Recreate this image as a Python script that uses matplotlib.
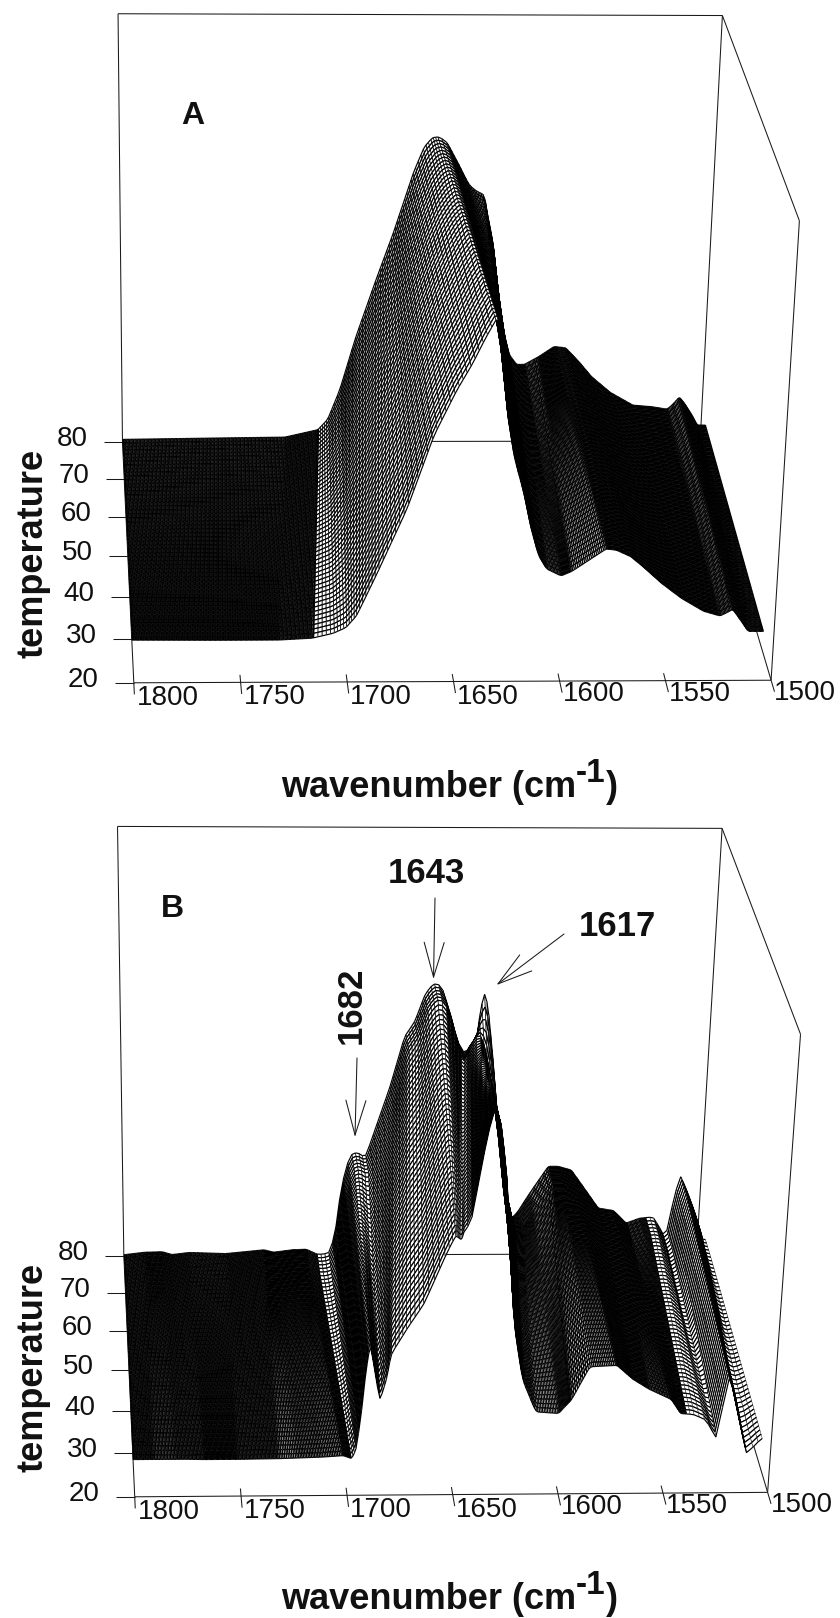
import numpy as np
import matplotlib
matplotlib.use('Agg')
import matplotlib.pyplot as plt
from matplotlib.collections import PathCollection
from matplotlib.path import Path

plt.rcParams['font.family'] = ['Liberation Sans', 'DejaVu Sans']

# axis ticks
WN_TICKS = [1800, 1750, 1700, 1650, 1600, 1550, 1500]
TEMP_TICKS = [20, 30, 40, 50, 60, 70, 80]

# panel A, spectra read off the front (30) and back (80) edge of the surface
# same number of points per edge, point n on one edge belongs to point n on the other
A_WN_80 = [1800, 1752, 1716, 1699, 1694, 1688, 1680, 1670, 1662, 1657, 1652, 1647, 1643, 1640, 1636, 1630, 1624, 1620, 1616, 1615, 1611, 1608, 1604, 1601, 1597, 1593, 1586, 1578, 1572, 1565, 1558, 1548, 1536, 1526, 1518, 1515, 1512, 1509, 1505, 1502, 1497]
A_ABS_80 = [6, 9, 11, 29, 54, 125, 254, 392, 497, 570, 643, 700, 721, 723, 713, 664, 612, 597, 589, 560, 477, 371, 264, 211, 187, 187, 205, 230, 227, 194, 157, 119, 88, 84, 78, 91, 108, 91, 64, 39, 39]
A_WN_30 = [1800, 1760, 1730, 1714, 1704, 1698, 1693, 1684, 1670, 1658, 1648, 1641, 1635, 1630, 1629, 1628, 1627, 1626, 1625, 1624, 1620, 1615, 1611, 1607, 1603, 1596, 1591, 1575, 1570, 1563, 1557, 1548, 1538, 1527, 1519, 1516, 1513, 1509, 1505, 1502, 1497]
A_ABS_30 = [-2, -3, -3, 1, 12, 25, 52, 144, 294, 458, 556, 614, 672, 715, 700, 670, 643, 600, 560, 507, 408, 329, 249, 188, 158, 142, 152, 203, 200, 185, 162, 125, 90, 60, 49, 56, 64, 39, 13, 13, 13]

# panel B, the 75 edge is the shoulder that stands in front of the 1617 band
B_WN_80 = [1800, 1789, 1780, 1775, 1766, 1747, 1727, 1722, 1712, 1705, 1699, 1693, 1690, 1688, 1685, 1682, 1679, 1675, 1669, 1663, 1656, 1651, 1646, 1642, 1638, 1633, 1629, 1625, 1623, 1619, 1618, 1616, 1614, 1611, 1607, 1602, 1598, 1595, 1589, 1580, 1575, 1568, 1561, 1553, 1545, 1538, 1531, 1524, 1520, 1517, 1514, 1511, 1506, 1501, 1499, 1495]
B_ABS_80 = [2, 8, 9, 2, 7, 4, 13, 7, 13, 14, 1, 4, 53, 139, 213, 247, 249, 237, 321, 405, 524, 559, 623, 647, 643, 577, 512, 482, 500, 524, 577, 629, 594, 488, 321, 163, 89, 105, 151, 215, 215, 206, 163, 113, 107, 76, 88, 91, 63, 38, 125, 195, 144, 88, 38, 34]
B_WN_75 = [1800, 1789, 1780, 1775, 1766, 1747, 1727, 1722, 1712, 1705, 1699, 1693, 1690, 1688, 1685, 1682, 1679, 1675, 1669, 1663, 1656, 1651, 1646, 1642, 1638, 1633, 1629, 1627, 1625, 1622, 1619, 1616, 1613, 1609, 1605, 1602, 1598, 1595, 1589, 1580, 1575, 1568, 1561, 1553, 1545, 1538, 1531, 1524, 1520, 1517, 1514, 1511, 1506, 1501, 1499, 1495]
B_ABS_75 = [2, 8, 9, 2, 7, 4, 13, 7, 13, 14, 1, 4, 53, 139, 213, 247, 249, 237, 321, 405, 524, 559, 623, 647, 643, 577, 512, 504, 534, 563, 565, 516, 445, 338, 194, 163, 89, 105, 151, 215, 215, 206, 163, 113, 107, 76, 88, 91, 63, 38, 125, 195, 144, 88, 38, 34]
B_WN_30 = [1800, 1790, 1780, 1775, 1766, 1750, 1730, 1722, 1709, 1699, 1695, 1693, 1691, 1689, 1688, 1687, 1685, 1682, 1679, 1677, 1669, 1662, 1652, 1648, 1647, 1646, 1645, 1644, 1641, 1638, 1635, 1632, 1629, 1625, 1622, 1619, 1614, 1607, 1596, 1590, 1582, 1569, 1565, 1561, 1553, 1542, 1537, 1531, 1525, 1522, 1519, 1515, 1510, 1504, 1500, 1496]
B_ABS_30 = [-15, -15, -15, -15, -16, -16, -15, -14, -12, -9, -16, 5, 75, 179, 215, 247, 196, 117, 167, 224, 287, 337, 449, 488, 486, 482, 480, 500, 516, 604, 691, 761, 750, 625, 460, 291, 165, 90, 86, 118, 193, 196, 180, 164, 141, 117, 84, 82, 70, 50, 21, 174, 105, -15, 11, 28]

# box corners of each panel in the picture, used to fit its camera
A_BOX = {'front_left': (134, 683), 'front_right': (769, 680.5), 'back_left': (122, 441), 'back_right': (702, 441),
         'top_left': (118, 14), 'top_right': (721, 16), 'top_front': (801, 220),
         'temps': {70: (124, 479), 60: (126, 517), 50: (128, 556), 40: (130, 598), 30: (132, 639)}}
B_BOX = {'front_left': (134.6, 1497.6), 'front_right': (768, 1491.5), 'back_left': (123.9, 1254.8), 'back_right': (696, 1255),
         'top_left': (117.4, 827), 'top_right': (722.7, 828), 'top_front': (800, 1034),
         'temps': {70: (125.5, 1291.5), 60: (127, 1330), 50: (129, 1370.6), 40: (131, 1412), 30: (133, 1452.7)}}

# mesh along the wavenumber axis, (from, to, step, line width of the lines across)
A_MESH = [(1800, 1706, 0.65, 0.85), (1706, 1632, 1.5, 0.5), (1632, 1590, 0.55, 0.75), (1590, 1497, 0.6, 0.8)]
B_MESH = [(1800, 1698, 0.65, 0.85), (1698, 1606, 1.6, 0.45), (1606, 1585, 0.55, 0.7), (1585, 1530, 0.6, 0.8), (1530, 1495, 2.0, 0.3)]

LINE = '#1a1a1a'
TEXT = '#111111'


def fit_camera(box):
    pts = [((0, 0, 0), box['front_left']), ((1, 0, 0), box['front_right']), ((0, 1, 0), box['back_left']),
           ((1, 1, 0), box['back_right']), ((0, 1, 1), box['top_left']), ((1, 1, 1), box['top_right']),
           ((1, 0, 1), box['top_front'])]
    for t, p in box['temps'].items():
        pts.append(((0, (t-20)/60, 0), p))
    rows = []
    for (u, v, h), (x, y) in pts:
        rows.append([u, v, h, 1, 0, 0, 0, 0, -x*u, -x*v, -x*h, -x])
        rows.append([0, 0, 0, 0, u, v, h, 1, -y*u, -y*v, -y*h, -y])
    return np.linalg.svd(np.array(rows, float))[2][-1].reshape(3, 4)


def project(cam, wn, temp, ab):
    u = (1800-np.asarray(wn, float))/300
    v = (np.asarray(temp, float)-20)/60
    h = np.asarray(ab, float)
    q = np.stack([u, v, h, np.ones_like(u+v+h)], axis=-1)
    p = q @ cam.T
    return p[..., :2]/p[..., 2:]


def smooth(a, n=7):
    k = np.ones(n)/n
    return np.convolve(np.pad(a, n//2, mode='edge'), k, mode='valid')


def surface(ax, cam, edges, mesh, n_rows=52):
    # edges: list of (temperature, wn list, abs list) back to front
    temps = np.array([e[0] for e in edges], float)
    wns = np.array([e[1] for e in edges], float)
    abss = np.array([e[2] for e in edges], float)/1000
    idx = np.arange(wns.shape[1])
    mean_wn = wns.mean(axis=0)
    # round off the corners of the read polylines, then take the mesh columns
    fine = np.arange(mean_wn[0], mean_wn[-1], -0.25)
    s_fine = np.interp(-fine, -mean_wn, idx)
    grid = np.concatenate([np.arange(a, b, -st) for a, b, st, lw in mesh])
    col_lw = np.concatenate([np.full(len(np.arange(a, b, -st)), lw) for a, b, st, lw in mesh])
    w_rows = np.array([np.interp(-grid, -fine, smooth(np.interp(s_fine, idx, r))) for r in wns])
    z_rows = np.array([np.interp(-grid, -fine, smooth(np.interp(s_fine, idx, r))) for r in abss])
    t_grid = np.linspace(temps[0], temps[-1], n_rows)
    frac = np.interp(-t_grid, -temps, np.arange(len(temps)))
    lo = np.minimum(frac.astype(int), len(temps)-2)
    f = (frac-lo)[:, None]
    w = w_rows[lo]*(1-f) + w_rows[lo+1]*f
    z = z_rows[lo]*(1-f) + z_rows[lo+1]*f
    P = project(cam, w, t_grid[:, None]*np.ones_like(w), z)

    # far to near: back edge first, low wavenumber first
    paths, faces, widths = [], [], []
    two = [Path.MOVETO, Path.LINETO, Path.MOVETO, Path.LINETO]
    for i in range(P.shape[0]-1):
        for j in range(P.shape[1]-2, -1, -1):
            a, b, c, d = P[i, j], P[i, j+1], P[i+1, j+1], P[i+1, j]
            paths.append(Path([a, b, c, d, a], closed=True))
            faces.append((1, 1, 1, 1))
            widths.append(0)
            paths.append(Path([a, b, d, c], two))
            faces.append((0, 0, 0, 0))
            widths.append(0.85)
            paths.append(Path([a, d, b, c], two))
            faces.append((0, 0, 0, 0))
            widths.append(col_lw[j])
    edgecolors = [(0, 0, 0, 0) if wd == 0 else (0, 0, 0, 1) for wd in widths]
    ax.add_collection(PathCollection(paths, facecolors=faces, edgecolors=edgecolors, linewidths=widths,
                                     antialiaseds=True, zorder=3))


def panel(ax, cam, edges, mesh, temp_label_y, xlabel_base):
    def seg(p, q):
        ax.plot([p[0], q[0]], [p[1], q[1]], color=LINE, lw=0.75, zorder=2, solid_capstyle='butt')

    fl, fr = project(cam, 1800, 20, 0), project(cam, 1500, 20, 0)
    bl, br = project(cam, 1800, 80, 0), project(cam, 1500, 80, 0)
    tl, tr, tf = project(cam, 1800, 80, 1), project(cam, 1500, 80, 1), project(cam, 1500, 20, 1)
    for p, q in [(fl, fr), (fl, bl), (bl, br), (fr, br), (bl, tl), (tl, tr), (tr, br), (tr, tf), (tf, fr)]:
        seg(p, q)
    for t in TEMP_TICKS:
        p = project(cam, 1800, t, 0)
        seg(p-[18.5, 0], p)
        ax.text(p[0]-35, p[1]-3, str(t), ha='right', va='center', fontsize=20, color=TEXT)
    for wn in WN_TICKS:
        p = project(cam, wn, 20, 0)
        top = project(cam, wn, 21.7, 0) if 1800 > wn > 1500 else p
        seg(top, project(cam, wn, 17.4, 0))
        ax.text(p[0]+3, p[1]+15 if wn > 1600 else p[1]+13, str(wn), ha='left', va='center', fontsize=20, color=TEXT)
    surface(ax, cam, edges, mesh)
    ax.text(33, temp_label_y, 'temperature', rotation=90, ha='center', va='center', fontsize=26,
            fontweight='bold', color=TEXT)
    ax.text(281, xlabel_base, 'wavenumber (cm', ha='left', va='baseline', fontsize=26, fontweight='bold', color=TEXT)
    ax.text(576, xlabel_base-15, '-1', ha='left', va='baseline', fontsize=24, fontweight='bold', color=TEXT)
    ax.text(606, xlabel_base, ')', ha='left', va='baseline', fontsize=26, fontweight='bold', color=TEXT)


def arrow(ax, start, end):
    ax.annotate('', xy=end, xytext=start, zorder=4,
                arrowprops=dict(arrowstyle='->,head_length=2.5,head_width=0.72', lw=0.75, color=LINE,
                                mutation_scale=10, shrinkA=0, shrinkB=0))


fig = plt.figure(figsize=(8.4, 16.18), dpi=100)
ax = fig.add_axes([0, 0, 1, 1])
ax.set_xlim(0, 840)
ax.set_ylim(1618, 0)
ax.axis('off')

panel(ax, fit_camera(A_BOX), [(80, A_WN_80, A_ABS_80), (30, A_WN_30, A_ABS_30)], A_MESH, 553, 797)
panel(ax, fit_camera(B_BOX), [(80, B_WN_80, B_ABS_80), (75, B_WN_75, B_ABS_75), (30, B_WN_30, B_ABS_30)], B_MESH, 1367, 1609)

ax.text(193, 116, 'A', ha='center', va='center', fontsize=23, fontweight='bold', color=TEXT)
ax.text(172, 909, 'B', ha='center', va='center', fontsize=23, fontweight='bold', color=TEXT)
ax.text(426, 873, '1643', ha='center', va='center', fontsize=25, fontweight='bold', color=TEXT)
ax.text(617, 926, '1617', ha='center', va='center', fontsize=25, fontweight='bold', color=TEXT)
ax.text(351, 1005, '1682', rotation=90, ha='center', va='center', fontsize=25, fontweight='bold', color=TEXT)
arrow(ax, (435, 898), (433.5, 979))
arrow(ax, (564, 934), (496.5, 985))
arrow(ax, (357, 1058), (355, 1137))

fig.savefig('out.png', dpi=100)
